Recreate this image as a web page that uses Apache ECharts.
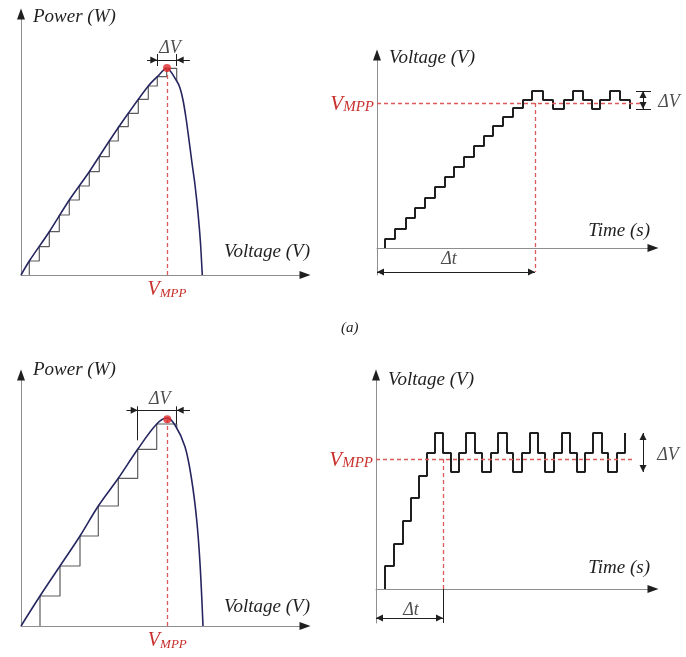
<!DOCTYPE html>
<html>
<head>
<meta charset="utf-8">
<script src="https://cdn.jsdelivr.net/npm/echarts@6/dist/echarts.min.js"></script>
<style>
  html, body { margin: 0; padding: 0; background: #ffffff; }
  #chart { width: 686px; height: 657px; }
</style>
</head>
<body>
<div id="chart"></div>
<script>
// ---- Case A: small perturbation step -------------------------------------
// P-V curve samples (voltage, power) in axis units
const pvCurveVoltA  = [0, 0.83, 2.83, 4.83, 6.83, 8.83, 10.73, 12.73, 13.63, 14.57, 15.57, 15.9, 16.2, 16.5, 16.8, 17.1, 17.4, 17.7, 17.95, 18.13];
const pvCurvePowerA = [0, 1.4, 4.33, 7.5, 10.33, 13.4, 16.17, 18.9, 19.83, 20.67, 19.4, 18.7, 17.5, 15.7, 13.5, 11.2, 9.0, 6.2, 3.2, 0];
// operating points visited by the tracker
const trackVoltA  = [0.83, 1.83, 2.83, 3.83, 4.83, 5.83, 6.83, 7.83, 8.83, 9.73, 10.73, 11.73, 12.73, 13.63, 14.57, 15.57];
const trackPowerA = [1.4, 2.83, 4.33, 6.0, 7.5, 8.9, 10.33, 11.83, 13.4, 14.83, 16.17, 17.57, 18.9, 19.83, 20.67, 19.4];
const mppA = [14.6, 20.7];
// voltage reference versus time
const timeA = [0.8, 1.8, 2.9, 3.8, 4.8, 5.8, 6.8, 7.7, 8.7, 9.7, 10.7, 11.6, 12.6, 13.6, 14.6, 15.5,
               16.6, 17.6, 18.7, 19.6, 20.6, 21.5, 22.3, 23.3, 24.3, 25.3];
const voltA = [0.9, 1.9, 3.0, 4.0, 5.0, 6.1, 7.1, 8.1, 9.1, 10.2, 11.2, 12.2, 13.1, 14.0, 14.8, 15.7,
               14.8, 13.9, 14.8, 15.7, 14.8, 13.9, 14.8, 15.7, 14.8, 13.9];
const vmppLevelA = 14.5;
const settleTimeA = 15.8;

// ---- Case B: large perturbation step -------------------------------------
const pvCurveVoltB  = [0, 1.9, 3.9, 5.9, 7.73, 9.73, 11.67, 13.57, 14.6, 15.4, 16.4, 17.07, 17.57, 17.9, 18.2];
const pvCurvePowerB = [0, 3.0, 6.0, 9.0, 12.0, 14.77, 17.67, 20.2, 20.8, 20.1, 17.93, 14.6, 10.6, 6.27, 0];
const trackVoltB  = [1.9, 3.9, 5.9, 7.73, 9.73, 11.67, 13.57, 15.57];
const trackPowerB = [3.0, 6.0, 9.0, 12.0, 14.77, 17.67, 20.2, 19.8];
const mppB = [14.63, 20.67];
const timeB = [0.9, 1.8, 2.7, 3.5, 4.3, 5.1, 5.9, 6.7, 7.5, 8.3, 9.0, 9.9, 10.6, 11.5, 12.2, 13.1,
               13.7, 14.6, 15.4, 16.2, 16.9, 17.8, 18.6, 19.4, 20.1, 20.9, 21.7, 22.6, 23.2, 24.1, 24.9];
const voltB = [2.3, 4.5, 6.8, 9.1, 11.3, 13.6, 15.6, 13.6, 11.7, 13.6, 15.6, 13.6, 11.7, 13.6, 15.6, 13.6,
               11.7, 13.6, 15.6, 13.6, 11.7, 13.6, 15.6, 13.6, 11.7, 13.6, 15.6, 13.6, 11.7, 13.6, 15.6];
const vmppLevelB = 13.0;
const settleTimeB = 6.7;

// ---- styling ---------------------------------------------------------------
const SERIF = '"Liberation Serif", "Times New Roman", serif';
const INK = '#1f1f1f';
const AXIS = '#8e8e8e';
const CURVE = '#25255f';
const STAIR = '#5c5c5c';
const RED = '#e02a2a';
const RED_DASH = '#dd5a5a';
const RED_TXT = '#c8302c';
const HEAD = 7;          // arrow head size, px
const INSET = 0.35;      // half an arrow head, in axis units (1 unit = 10 px)

// ---- helpers ---------------------------------------------------------------
const zip = (a, b) => a.map((v, i) => [v, b[i]]);

// staircase on the P-V plane: move right at constant power, then settle on the curve
function pvStairs(v, p) {
  const pts = [[v[0], 0], [v[0], p[0]]];
  for (let i = 1; i < v.length; i++) {
    pts.push([v[i], p[i - 1]]);
    pts.push([v[i], p[i]]);
  }
  return pts;
}
// staircase in time: hold the level, then jump at each update instant
function timeStairs(t, v) {
  const pts = [[t[0], 0]];
  let prev = 0;
  for (let i = 0; i < t.length; i++) {
    pts.push([t[i], prev]);
    pts.push([t[i], v[i]]);
    prev = v[i];
  }
  return pts;
}

function makeRich(big, small) {
  return {
    v: { fontFamily: SERIF, fontStyle: 'italic', fontSize: big, color: RED_TXT, lineHeight: big + 2, verticalAlign: 'bottom' },
    s: { fontFamily: SERIF, fontStyle: 'italic', fontSize: small, color: RED_TXT, lineHeight: small - 3, verticalAlign: 'bottom' }
  };
}
const vmppFormatter = () => '{v|V}{s|MPP}';
const nameStyle = { fontFamily: SERIF, fontStyle: 'italic', fontSize: 19, color: INK };

function axis(gridIndex, min, max, extra) {
  return Object.assign({
    type: 'value', gridIndex, min, max,
    axisLine: { show: true, onZero: true, lineStyle: { color: AXIS, width: 1 } },
    axisTick: { show: false },
    axisLabel: { show: false },
    splitLine: { show: false }
  }, extra);
}
function xName(text, gap, padBottom) {
  return {
    name: text, nameLocation: 'end', nameGap: gap,
    nameTextStyle: Object.assign({}, nameStyle, { align: 'right', verticalAlign: 'bottom', padding: [0, 0, padBottom, 0] })
  };
}
function yName(text, gap) {
  return {
    name: text, nameLocation: 'end', nameGap: gap,
    nameTextStyle: Object.assign({}, nameStyle, { align: 'left', verticalAlign: 'middle', padding: [0, 0, 0, 12] })
  };
}
// black arrow heads at the ends of both axes
function axisArrows(xMax, yMax) {
  return {
    silent: true, animation: false,
    symbol: 'triangle', symbolSize: [8, 11],
    itemStyle: { color: INK }, label: { show: false },
    data: [
      { coord: [0, yMax], symbolOffset: [0, 2] },
      { coord: [xMax, 0], symbolRotate: -90, symbolOffset: [-2, 0] }
    ]
  };
}
function textSeries(gi, items, size) {
  return {
    type: 'scatter', xAxisIndex: gi, yAxisIndex: gi, silent: true, clip: false,
    symbolSize: 1, itemStyle: { color: 'rgba(0,0,0,0)' }, z: 6,
    label: { show: true, position: 'inside', fontFamily: SERIF, fontStyle: 'italic', fontSize: size, color: INK },
    data: items.map(it => ({ value: it.at, label: { formatter: it.text } }))
  };
}
const seg = (a, b, sa, sb) => [{ coord: a, symbol: sa || 'none' }, { coord: b, symbol: sb || 'none' }];
// horizontal dimension with arrow tips touching x0 and x1 from the inside
function hDimOut(x0, x1, y) {
  return [seg([x0, y], [x1, y]), seg([x0 + INSET, y], [x1 - INSET, y], 'triangle', 'triangle')];
}
function vDimOut(x, y0, y1) {
  return [seg([x, y0], [x, y1]), seg([x, y0 + INSET], [x, y1 - INSET], 'triangle', 'triangle')];
}
// horizontal dimension with arrows coming from outside, tips touching lo and hi
function hDimIn(lo, hi, y, left, right) {
  return [
    seg([lo - left, y], [hi + right, y]),
    seg([lo - left, y], [lo - INSET, y], 'none', 'triangle'),
    seg([hi + right, y], [hi + INSET, y], 'none', 'triangle')
  ];
}

// ---- dimension annotations derived from the data --------------------------
// left panels: the tracker oscillates over the last three operating points
const loA = trackVoltA[trackVoltA.length - 3], hiA = trackVoltA[trackVoltA.length - 1];
const barA = mppA[1] + 0.8;
const loB = trackVoltB[trackVoltB.length - 3], hiB = trackVoltB[trackVoltB.length - 1];
const barB = mppB[1] + 0.9;
// right panels: band of the steady-state oscillation
const highA = Math.max(...voltA), lowA = Math.min(...voltA.slice(voltA.indexOf(highA)));
const highB = Math.max(...voltB), lowB = Math.min(...voltB.slice(voltB.indexOf(highB)));
const endA = timeA[timeA.length - 1], endB = timeB[timeB.length - 1];

const dimLine = { silent: true, animation: false, symbolSize: HEAD, label: { show: false },
                  lineStyle: { color: INK, width: 1, type: 'solid' }, emphasis: { disabled: true } };
const redLine = { silent: true, animation: false, symbol: 'none', label: { show: false },
                  lineStyle: { color: RED_DASH, width: 1.3, type: [4, 3] }, emphasis: { disabled: true } };

const option = {
  animation: false,
  backgroundColor: '#ffffff',
  title: {
    text: '(a)', left: 336, top: 316,
    textStyle: { fontFamily: SERIF, fontStyle: 'italic', fontWeight: 'normal', fontSize: 15, color: INK }
  },
  grid: [
    { left: 21,  top: 12,  width: 286, height: 263, outerBoundsMode: 'none', containLabel: false },
    { left: 377, top: 53,  width: 278, height: 222, outerBoundsMode: 'none', containLabel: false },
    { left: 21,  top: 373, width: 286, height: 253, outerBoundsMode: 'none', containLabel: false },
    { left: 376, top: 373, width: 279, height: 250, outerBoundsMode: 'none', containLabel: false }
  ],
  xAxis: [
    axis(0, 0, 28.6, Object.assign(xName('Voltage (V)', 3, 14), {
      axisLabel: { show: true, customValues: [mppA[0]], formatter: vmppFormatter, rich: makeRich(20, 13), margin: 3 } })),
    axis(1, 0, 27.8, xName('Time (s)', -5, 8)),
    axis(2, 0, 28.6, Object.assign(xName('Voltage (V)', 3, 10), {
      axisLabel: { show: true, customValues: [mppB[0]], formatter: vmppFormatter, rich: makeRich(20, 13), margin: 3 } })),
    axis(3, 0, 27.9, xName('Time (s)', -5, 12))
  ],
  yAxis: [
    axis(0, 0, 26.3, yName('Power (W)', -5)),
    axis(1, -2.7, 19.5, Object.assign(yName('Voltage (V)', -5), {
      axisLabel: { show: true, customValues: [vmppLevelA], formatter: vmppFormatter, rich: makeRich(21, 15), margin: 3 } })),
    axis(2, 0, 25.3, yName('Power (W)', 3)),
    axis(3, -3.4, 21.6, Object.assign(yName('Voltage (V)', -7), {
      axisLabel: { show: true, customValues: [vmppLevelB], formatter: vmppFormatter, rich: makeRich(21, 15), margin: 3 } }))
  ],
  series: [
    // ---------------- top left: P-V curve, small step ----------------
    {
      type: 'line', xAxisIndex: 0, yAxisIndex: 0, data: zip(pvCurveVoltA, pvCurvePowerA),
      smooth: 0.3, showSymbol: false, silent: true, z: 3,
      lineStyle: { color: CURVE, width: 1.6 }
    },
    {
      type: 'line', xAxisIndex: 0, yAxisIndex: 0, data: pvStairs(trackVoltA, trackPowerA),
      showSymbol: false, silent: true, clip: false, z: 2,
      lineStyle: { color: STAIR, width: 1.2 },
      markPoint: axisArrows(28.6, 26.3),
      markLine: Object.assign({}, dimLine, { data: [
        ...hDimIn(loA, hiA, barA, 1.0, 1.3),
        seg([loA, barA - 0.6], [loA, barA + 0.6]),
        seg([hiA, barA - 0.6], [hiA, barA + 0.6])
      ] })
    },
    {
      type: 'scatter', xAxisIndex: 0, yAxisIndex: 0, data: [mppA], symbolSize: 8, silent: true, clip: false, z: 5,
      itemStyle: { color: RED },
      markLine: Object.assign({}, redLine, { data: [seg([mppA[0], 0], mppA)] })
    },
    textSeries(0, [{ at: [(loA + hiA) / 2 + 0.3, barA + 1.2], text: 'ΔV' }], 18),

    // ---------------- top right: voltage vs time, small step ----------------
    {
      type: 'line', xAxisIndex: 1, yAxisIndex: 1, data: timeStairs(timeA, voltA),
      showSymbol: false, silent: true, clip: false, z: 3,
      lineStyle: { color: INK, width: 2 },
      markPoint: axisArrows(27.8, 19.5),
      markLine: Object.assign({}, dimLine, { data: [
        ...hDimOut(0, settleTimeA, -2.4),
        seg([endA + 0.6, highA], [endA + 2.1, highA]),
        seg([endA + 0.6, lowA], [endA + 2.1, lowA]),
        ...vDimOut(endA + 1.3, lowA, highA)
      ] })
    },
    {
      type: 'scatter', xAxisIndex: 1, yAxisIndex: 1, data: [], silent: true, clip: false,
      markLine: Object.assign({}, redLine, { data: [
        seg([0, vmppLevelA], [endA + 1.0, vmppLevelA]),
        seg([settleTimeA, vmppLevelA], [settleTimeA, -2.4])
      ] })
    },
    textSeries(1, [
      { at: [settleTimeA / 2 - 0.7, -1.1], text: 'Δt' },
      { at: [endA + 3.9, (highA + lowA) / 2 - 0.2], text: 'ΔV' }
    ], 18),

    // ---------------- bottom left: P-V curve, large step ----------------
    {
      type: 'line', xAxisIndex: 2, yAxisIndex: 2, data: zip(pvCurveVoltB, pvCurvePowerB),
      smooth: 0.35, showSymbol: false, silent: true, z: 3,
      lineStyle: { color: CURVE, width: 1.6 }
    },
    {
      type: 'line', xAxisIndex: 2, yAxisIndex: 2, data: pvStairs(trackVoltB, trackPowerB),
      showSymbol: false, silent: true, clip: false, z: 2,
      lineStyle: { color: STAIR, width: 1.2 },
      markPoint: axisArrows(28.6, 25.3),
      markLine: Object.assign({}, dimLine, { data: [
        ...hDimIn(loB, hiB, barB, 1.1, 1.33),
        seg([loB, trackPowerB[trackPowerB.length - 3] + 0.9], [loB, barB + 0.4]),
        seg([hiB, trackPowerB[trackPowerB.length - 2]], [hiB, barB + 0.4])
      ] })
    },
    {
      type: 'scatter', xAxisIndex: 2, yAxisIndex: 2, data: [mppB], symbolSize: 8, silent: true, clip: false, z: 5,
      itemStyle: { color: RED },
      markLine: Object.assign({}, redLine, { data: [seg([mppB[0], 0], mppB)] })
    },
    textSeries(2, [{ at: [(loB + hiB) / 2 + 0.25, barB + 1.1], text: 'ΔV' }], 18),

    // ---------------- bottom right: voltage vs time, large step ----------------
    {
      type: 'line', xAxisIndex: 3, yAxisIndex: 3, data: timeStairs(timeB, voltB),
      showSymbol: false, silent: true, clip: false, z: 3,
      lineStyle: { color: INK, width: 2 },
      markPoint: axisArrows(27.9, 21.6),
      markLine: Object.assign({}, dimLine, { data: [
        ...hDimOut(0, settleTimeB, -2.9),
        seg([settleTimeB, 0], [settleTimeB, -3.4]),
        seg([endB + 1.0, highB], [endB + 3.2, highB]),
        seg([endB + 1.0, lowB], [endB + 3.2, lowB]),
        ...vDimOut(endB + 1.8, lowB, highB)
      ] })
    },
    {
      type: 'scatter', xAxisIndex: 3, yAxisIndex: 3, data: [], silent: true, clip: false,
      markLine: Object.assign({}, redLine, { data: [
        seg([0, vmppLevelB], [endB + 0.8, vmppLevelB]),
        seg([settleTimeB, vmppLevelB], [settleTimeB, 0])
      ] })
    },
    textSeries(3, [
      { at: [settleTimeB / 2 + 0.15, -2.1], text: 'Δt' },
      { at: [endB + 4.3, vmppLevelB + 0.4], text: 'ΔV' }
    ], 18)
  ]
};

const chart = echarts.init(document.getElementById('chart'), null, { renderer: 'canvas', width: 686, height: 657 });
chart.setOption(option);
</script>
</body>
</html>
